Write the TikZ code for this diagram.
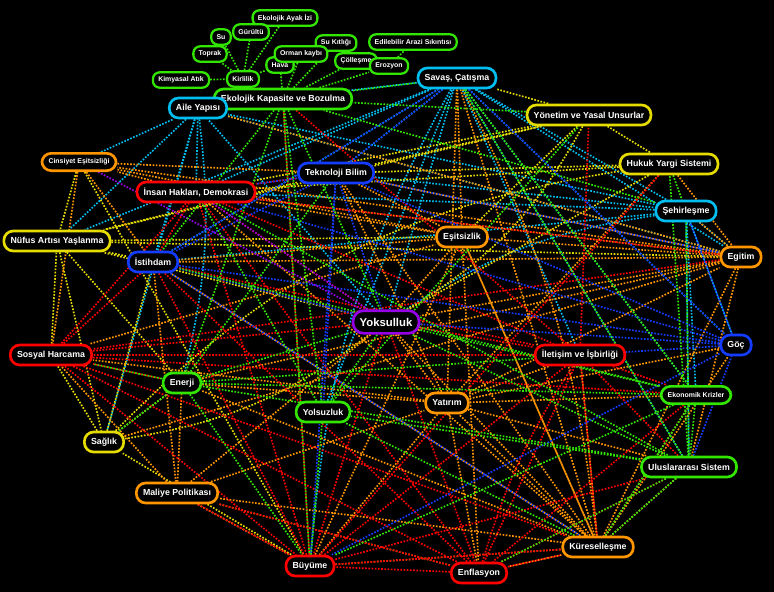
\documentclass[tikz,border=0pt]{standalone}
\usepackage{fontspec}
\setmainfont{Liberation Sans}
\definecolor{yesil}{RGB}{50,230,0}
\definecolor{acikmavi}{RGB}{0,190,240}
\definecolor{koyumavi}{RGB}{20,60,255}
\definecolor{sari}{RGB}{230,220,0}
\definecolor{turuncu}{RGB}{255,150,0}
\definecolor{kirmizi}{RGB}{255,0,0}
\definecolor{mor}{RGB}{150,0,230}
\pgfdeclarelayer{zemin}
\pgfdeclarelayer{kenarlar}
\pgfsetlayers{zemin,kenarlar,main}
\tikzset{
  kavram/.style={draw=#1, fill=black, text=white, line width=2pt,
    rounded corners=7pt, inner xsep=5pt, inner ysep=0pt, minimum height=15pt,
    font=\bfseries\fontsize{6.6}{7}\selectfont},
  kucuk/.style={kavram=#1, line width=1.7pt, rounded corners=5pt,
    inner xsep=4pt, minimum height=11.5pt, font=\bfseries\fontsize{5.2}{6}\selectfont},
  kenar/.style={draw=#1, line width=1.25pt, dash pattern=on 1.25pt off 1.15pt},
}
\begin{document}
\begin{tikzpicture}[x=0.75pt,y=-0.75pt]
  \useasboundingbox (0,0) rectangle (774,592);
  \begin{pgfonlayer}{zemin}
    \fill[black] (0,0) rectangle (774,592);
  \end{pgfonlayer}
  %%% cevre kumesi
  \node[kucuk=yesil] (eai) at (285,18) {Ekolojik Ayak İzi};
  \node[kucuk=yesil] (su) at (221,37) {Su};
  \node[kucuk=yesil] (gur) at (251,32) {Gürültü};
  \node[kucuk=yesil] (top) at (210,54) {Toprak};
  \node[kucuk=yesil] (sukit) at (336,43) {Su Kıtlığı};
  \node[kucuk=yesil] (eas) at (413,42) {Edilebilir Arazi Sıkıntısı};
  \node[kucuk=yesil] (hava) at (280,65) {Hava};
  \node[kucuk=yesil] (orm) at (301,54) {Orman kaybı};
  \node[kucuk=yesil] (col) at (356,61) {Çölleşme};
  \node[kucuk=yesil] (ero) at (389,66) {Erozyon};
  \node[kucuk=yesil] (kim) at (181,80) {Kimyasal Atık};
  \node[kucuk=yesil] (kir) at (243,79) {Kirlilik};
  %%% kavramlar
  \node[kavram=yesil] (ekap) at (283,99) {Ekolojik Kapasite ve Bozulma};
  \node[kavram=acikmavi] (sav) at (457,78) {Savaş, Çatışma};
  \node[kavram=acikmavi] (aile) at (198,108) {Aile Yapısı};
  \node[kavram=sari] (yon) at (589,115) {Yönetim ve Yasal Unsurlar};
  \node[kavram=turuncu, font=\bfseries\fontsize{5.2}{6}\selectfont, minimum height=13pt] (cin) at (79,162) {Cinsiyet Eşitsizliği};
  \node[kavram=sari] (huk) at (669,164) {Hukuk Yargi Sistemi};
  \node[kavram=kirmizi] (ins) at (196,192) {İnsan Hakları, Demokrasi};
  \node[kavram=koyumavi] (tek) at (336,173) {Teknoloji Bilim};
  \node[kavram=acikmavi] (seh) at (686,211) {Şehirleşme};
  \node[kavram=sari] (nuf) at (57,241) {Nüfus Artısı Yaşlanma};
  \node[kavram=turuncu] (esi) at (462,237) {Eşitsizlik};
  \node[kavram=koyumavi] (ist) at (153,262) {İstihdam};
  \node[kavram=turuncu] (egi) at (741,257) {Egitim};
  \node[kavram=mor, font=\bfseries\fontsize{8.5}{9}\selectfont, minimum height=17pt, rounded corners=8pt] (yok) at (386,322) {Yoksulluk};
  \node[kavram=koyumavi] (goc) at (736,345) {Göç};
  \node[kavram=kirmizi] (sos) at (51,355) {Sosyal Harcama};
  \node[kavram=kirmizi] (ilet) at (580,355) {İletişim ve İşbirliği};
  \node[kavram=yesil] (ene) at (182,383) {Enerji};
  \node[kavram=yesil, font=\bfseries\fontsize{5.2}{6}\selectfont, minimum height=13pt] (ekr) at (696,395) {Ekonomik Krizler};
  \node[kavram=yesil] (yol) at (323,412) {Yolsuzluk};
  \node[kavram=turuncu] (yat) at (447,403) {Yatırım};
  \node[kavram=sari] (sag) at (104,442) {Sağlık};
  \node[kavram=yesil] (uls) at (689,467) {Uluslararası Sistem};
  \node[kavram=turuncu] (mal) at (177,493) {Maliye Politikası};
  \node[kavram=turuncu] (kur) at (598,547) {Küreselleşme};
  \node[kavram=kirmizi] (buy) at (310,566) {Büyüme};
  \node[kavram=kirmizi] (enf) at (479,573) {Enflasyon};
  %%% Edges:
  \begin{pgfonlayer}{kenarlar}
  %%% cevre
  \draw[kenar=yesil] (kim) -- (kir) -- (top);
  \draw[kenar=yesil] (su) -- (kir) -- (gur);
  \draw[kenar=yesil] (eai) -- (kir) -- (hava);
  \draw[kenar=yesil] (kir) -- (ekap) -- (hava);
  \draw[kenar=yesil] (orm) -- (ekap) -- (sukit);
  \draw[kenar=yesil] (col) -- (ekap) -- (ero);
  \draw[kenar=yesil] (ero) -- (eas);
  %%% acik mavi
  \draw[kenar=acikmavi] (ins) -- (sav) -- (tek);
  \draw[kenar=acikmavi] (ist) -- (sav) -- (yok);
  \draw[kenar=acikmavi] (ilet) -- (sav) -- (ekr);
  \draw[kenar=acikmavi] (uls) -- (sav) -- (goc);
  \draw[kenar=acikmavi] (yol) -- (sav) -- (aile);
  \draw[kenar=acikmavi] (egi) -- (sav) -- (seh);
  \draw[kenar=acikmavi] (sav) to[bend right=12] (buy);
  \draw[kenar=acikmavi] (sav) -- (nuf);
  \draw[kenar=acikmavi] (cin) -- (aile) -- (nuf);
  \draw[kenar=acikmavi] (ins) -- (aile) -- (ist);
  \draw[kenar=acikmavi] (yok) -- (aile) -- (sag);
  \draw[kenar=acikmavi] (seh) -- (aile) -- (egi);
  \draw[kenar=acikmavi] (aile) to[bend left=10] (ene);
  \draw[kenar=acikmavi] (tek) -- (seh) -- (ist);
  \draw[kenar=acikmavi] (uls) -- (seh) -- (goc);
  \draw[kenar=acikmavi] (ekr) -- (seh) -- (egi);
  \draw[kenar=acikmavi] (seh) to[bend right=12] (yok);
  \draw[kenar=acikmavi] (seh) -- (ins);
  %%% sari
  \draw[kenar=sari] (sav) -- (yon) -- (huk);
  \draw[kenar=sari] (ins) -- (yon) -- (esi);
  \draw[kenar=sari] (tek) -- (yon) -- (nuf);
  \draw[kenar=sari] (yon) to[bend left=15] (yok);
  \draw[kenar=sari] (tek) -- (huk) -- (ins);
  \draw[kenar=sari] (huk) -- (yok);
  \draw[kenar=sari] (huk) to[bend right=18] (sag);
  \draw[kenar=sari] (cin) -- (nuf) -- (egi);
  \draw[kenar=sari] (sos) -- (nuf) -- (sag);
  \draw[kenar=sari] (yok) -- (nuf) -- (ist);
  \draw[kenar=sari] (tek) -- (nuf) -- (ene);
  \draw[kenar=sari] (nuf) -- (esi);
  \draw[kenar=sari] (sos) -- (sag) -- (ene);
  \draw[kenar=sari] (buy) -- (sag) -- (ist);
  \draw[kenar=sari] (sag) to[bend right=14] (yok);
  \draw[kenar=sari] (cin) -- (buy);
  %%% turuncu
  \draw[kenar=turuncu] (ins) -- (cin) -- (esi);
  \draw[kenar=turuncu] (egi) -- (cin) -- (sos);
  \draw[kenar=turuncu] (ist) -- (cin) -- (tek);
  \draw[kenar=turuncu] (ins) -- (esi) -- (yok);
  \draw[kenar=turuncu] (egi) -- (esi) -- (sav);
  \draw[kenar=turuncu] (buy) -- (esi) -- (tek);
  \draw[kenar=turuncu] (kur) -- (esi) -- (ist);
  \draw[kenar=turuncu] (sos) -- (esi) -- (enf);
  \draw[kenar=turuncu] (ins) -- (egi) -- (tek);
  \draw[kenar=turuncu] (ist) -- (egi) -- (yok);
  \draw[kenar=turuncu] (huk) -- (egi) -- (seh);
  \draw[kenar=turuncu] (aile) -- (egi) -- (kur);
  \draw[kenar=turuncu] (yat) -- (egi) -- (uls);
  \draw[kenar=turuncu] (ene) -- (egi) -- (sag);
  \draw[kenar=turuncu] (yok) -- (yat) -- (sav);
  \draw[kenar=turuncu] (kur) -- (yat) -- (buy);
  \draw[kenar=turuncu] (mal) -- (yat) -- (enf);
  \draw[kenar=turuncu] (ene) -- (yat) -- (tek);
  \draw[kenar=turuncu] (huk) -- (yat) -- (ekr);
  \draw[kenar=turuncu] (uls) -- (yat) -- (goc);
  \draw[kenar=turuncu] (ilet) -- (yat) -- (sos);
  \draw[kenar=turuncu] (kur) -- (mal) -- (buy);
  \draw[kenar=turuncu] (enf) -- (mal) -- (sos);
  \draw[kenar=turuncu] (ist) -- (mal) -- (ene);
  \draw[kenar=turuncu] (mal) -- (yok);
  \draw[kenar=turuncu] (sav) -- (kur) -- (tek);
  \draw[kenar=turuncu] (esi) -- (kur) -- (ilet);
  \draw[kenar=turuncu] (buy) -- (kur) -- (enf);
  \draw[kenar=turuncu] (yok) -- (kur) -- (ist);
  \draw[kenar=turuncu] (uls) -- (kur) -- (goc);
  \draw[kenar=turuncu] (ene) -- (kur) -- (ins);
  \draw[kenar=turuncu] (kur) -- (ekr);
  \draw[kenar=turuncu] (kur) to[bend right=10] (sav);
  %%% kirmizi
  \draw[kenar=kirmizi] (yok) -- (ins) -- (sos);
  \draw[kenar=kirmizi] (buy) -- (ins) -- (ilet);
  \draw[kenar=kirmizi] (ist) -- (ins) -- (enf);
  \draw[kenar=kirmizi] (egi) -- (ins) -- (tek);
  \draw[kenar=kirmizi] (ist) -- (sos) -- (yok);
  \draw[kenar=kirmizi] (ilet) -- (sos) -- (buy);
  \draw[kenar=kirmizi] (enf) -- (sos) -- (kur);
  \draw[kenar=kirmizi] (egi) -- (sos) -- (ene);
  \draw[kenar=kirmizi] (sos) -- (ekr);
  \draw[kenar=kirmizi] (yok) -- (ilet) -- (ekr);
  \draw[kenar=kirmizi] (uls) -- (ilet) -- (kur);
  \draw[kenar=kirmizi] (buy) -- (ilet) -- (yon);
  \draw[kenar=kirmizi] (ist) -- (ilet) -- (enf);
  \draw[kenar=kirmizi] (enf) -- (buy) -- (kur);
  \draw[kenar=kirmizi] (yok) -- (buy) -- (ekap);
  \draw[kenar=kirmizi] (ist) -- (buy) -- (uls);
  \draw[kenar=kirmizi] (huk) -- (buy) -- (mal);
  \draw[kenar=kirmizi] (yok) -- (enf) -- (kur);
  \draw[kenar=kirmizi] (ekr) -- (enf) -- (uls);
  \draw[kenar=kirmizi] (ist) -- (enf) -- (mal);
  \draw[kenar=kirmizi] (enf) to[bend left=8] (ilet);
  \draw[kenar=kirmizi] (ekap) -- (ilet);
  %%% koyu mavi
  \draw[kenar=koyumavi] (yok) -- (tek) -- (ist);
  \draw[kenar=koyumavi] (sav) -- (tek) -- (egi);
  \draw[kenar=koyumavi] (goc) -- (tek) -- (buy);
  \draw[kenar=koyumavi] (yol) -- (tek) -- (ins);
  \draw[kenar=koyumavi] (yok) -- (ist) -- (goc);
  \draw[kenar=koyumavi] (sav) -- (ist) -- (kur);
  \draw[kenar=koyumavi] (yok) -- (goc) -- (seh);
  \draw[kenar=koyumavi] (uls) -- (goc) -- (ins);
  \draw[kenar=koyumavi] (sav) -- (goc) -- (buy);
  \draw[kenar=koyumavi] (goc) -- (ilet);
  %%% mor
  \draw[kenar=mor] (cin) -- (yok) -- (ins);
  %%% yesil
  \draw[kenar=yesil] (yok) -- (ekap) -- (ene);
  \draw[kenar=yesil] (yol) -- (ekap) -- (sav);
  \draw[kenar=yesil] (yon) -- (ekap) -- (ist);
  \draw[kenar=yesil] (seh) -- (ekap) -- (buy);
  \draw[kenar=yesil] (yok) -- (ene) -- (buy);
  \draw[kenar=yesil] (uls) -- (ene) -- (ekr);
  \draw[kenar=yesil] (sag) -- (ene) -- (sos);
  \draw[kenar=yesil] (tek) -- (ene) -- (ilet);
  \draw[kenar=yesil] (yok) -- (yol) -- (ins);
  \draw[kenar=yesil] (buy) -- (yol) -- (kur);
  \draw[kenar=yesil] (uls) -- (yol) -- (yon);
  \draw[kenar=yesil] (yok) -- (ekr) -- (uls);
  \draw[kenar=yesil] (kur) -- (ekr) -- (buy);
  \draw[kenar=yesil] (sav) -- (ekr) -- (ist);
  \draw[kenar=yesil] (huk) -- (seh);
  \draw[kenar=yesil] (sav) -- (uls) -- (yok);
  \draw[kenar=yesil] (seh) -- (uls) -- (kur);
  \draw[kenar=yesil] (ins) -- (uls) -- (huk);
  \draw[kenar=yesil] (enf) -- (uls);
  \end{pgfonlayer}
\end{tikzpicture}
\end{document}
